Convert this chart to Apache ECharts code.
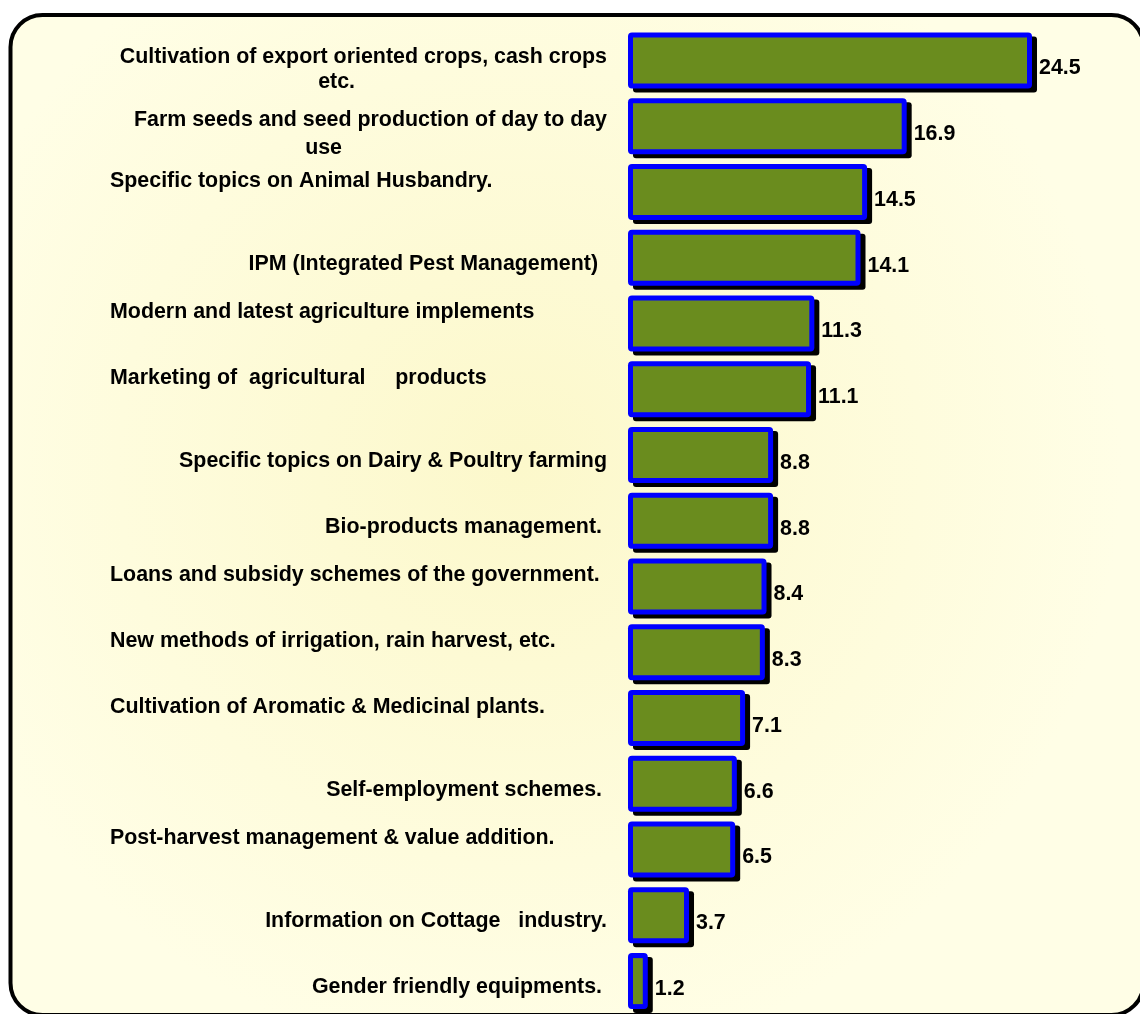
<!DOCTYPE html>
<html>
<head>
<meta charset="utf-8">
<title>Topics</title>
<script src="https://cdn.jsdelivr.net/npm/echarts@6/dist/echarts.min.js"></script>
<style>
  html, body { margin: 0; padding: 0; background: #fff; }
  #main { width: 1140px; height: 1014px; }
</style>
</head>
<body>
<div id="main"></div>
<script>
  var topics = [
    'Cultivation of export oriented crops, cash crops\netc.',
    'Farm seeds and seed production of day to day\nuse',
    'Specific topics on Animal Husbandry.',
    'IPM (Integrated Pest Management)',
    'Modern and latest agriculture implements',
    'Marketing of  agricultural     products',
    'Specific topics on Dairy & Poultry farming',
    'Bio-products management.',
    'Loans and subsidy schemes of the government.',
    'New methods of irrigation, rain harvest, etc.',
    'Cultivation of Aromatic & Medicinal plants.',
    'Self-employment schemes.',
    'Post-harvest management & value addition.',
    'Information on Cottage   industry.',
    'Gender friendly equipments.'
  ];
  var percents = [24.5, 16.9, 14.5, 14.1, 11.3, 11.1, 8.8, 8.8, 8.4, 8.3, 7.1, 6.6, 6.5, 3.7, 1.2];

  // label look per row (the original slide mixes left and right aligned labels)
  var rowStyle = ['c', 'd', 'l', 'r9', 'l', 'l', 'r', 'r5', 'l', 'l', 'l', 'r5', 'l', 'r', 'r5'];

  var font = { fontFamily: 'Liberation Sans', fontWeight: 'bold', fontSize: 21.4, color: '#000' };
  function fs(extra) { return Object.assign({}, font, extra); }

  var chart = echarts.init(document.getElementById('main'));
  var option = {
    animation: false,
    graphic: [{
      type: 'rect',
      z: -10,
      shape: { x: 10.5, y: 15, width: 1133, height: 1000, r: 32 },
      style: {
        stroke: '#000', lineWidth: 4,
        fill: {
          type: 'radial', x: 0.45, y: 0.45, r: 0.6,
          colorStops: [{ offset: 0, color: '#fcf8cb' }, { offset: 1, color: '#fffee6' }]
        }
      }
    }],
    grid: { left: 628, top: 27.5, width: 494.7, height: 988.5 },
    xAxis: { type: 'value', min: 0, max: 30, show: false },
    yAxis: {
      type: 'category',
      inverse: true,
      data: topics,
      axisLine: { show: false },
      axisTick: { show: false },
      splitLine: { show: false },
      axisLabel: {
        interval: 0,
        margin: 21,
        fontFamily: 'Liberation Sans', fontWeight: 'bold', fontSize: 21.4, color: '#000',
        formatter: function (value, index) {
          var st = rowStyle[index];
          var parts = value.split('\n');
          if (parts.length > 1) {
            return '{' + st + 'a|' + parts[0] + '}\n{' + st + 'b|' + parts[1] + '}';
          }
          return '{' + st + '|' + value + '}';
        },
        rich: {
          l: fs({ width: 497, align: 'left', lineHeight: 30, padding: [0, 0, 22, 0] }),
          r: fs({ align: 'right', lineHeight: 30, padding: [12, 0, 0, 0] }),
          r5: fs({ align: 'right', lineHeight: 30, padding: [12, 5, 0, 0] }),
          r9: fs({ align: 'right', lineHeight: 30, padding: [12, 9, 0, 0] }),
          ca: fs({ align: 'right', lineHeight: 25, padding: [18, 0, 0, 0] }),
          cb: fs({ align: 'right', lineHeight: 25, padding: [18, 252, 0, 0] }),
          da: fs({ align: 'right', lineHeight: 28, padding: [15, 0, 0, 0] }),
          db: fs({ align: 'right', lineHeight: 28, padding: [15, 265, 0, 0] })
        }
      }
    },
    series: [{
      type: 'custom',
      encode: { x: 0, y: 1 },
      data: percents.map(function (v, i) { return [v, i]; }),
      renderItem: function (params, api) {
        var start = api.coord([0, api.value(1)]);
        var end = api.coord([api.value(0), api.value(1)]);
        var h = 56;
        var x = start[0], y = start[1] - h / 2, w = end[0] - start[0];
        return {
          type: 'group',
          children: [
            { type: 'rect', shape: { x: x + 5, y: y + 4, width: w, height: h, r: 3 }, style: { fill: '#000' } },
            { type: 'rect', shape: { x: x, y: y, width: w, height: h, r: 4 }, style: { fill: '#0000ff' } },
            { type: 'rect', shape: { x: x + 5, y: y + 5, width: w - 10, height: h - 10 }, style: { fill: '#6a8c1e' } },
            {
              type: 'text',
              style: {
                text: api.value(0).toFixed(1),
                x: x + w + 7, y: start[1] + 8,
                verticalAlign: 'middle', align: 'left',
                font: 'bold 21.4px "Liberation Sans"', fill: '#000'
              }
            }
          ]
        };
      }
    }]
  };
  chart.setOption(option);
</script>
</body>
</html>
